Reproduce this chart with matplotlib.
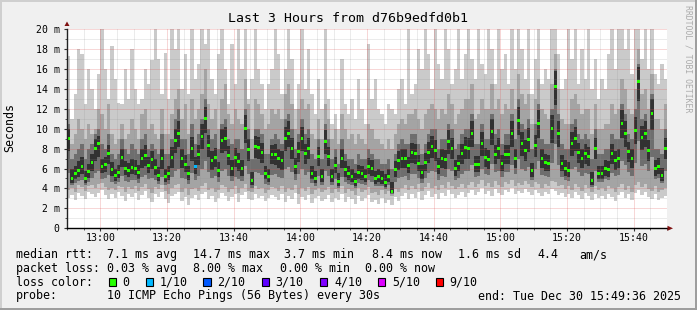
import numpy as np
import matplotlib
matplotlib.use('Agg')
import matplotlib.pyplot as plt
from matplotlib.patches import Rectangle, Polygon

# ======================= Daten (1 Wert pro Minute, 12:50 - 15:50, ms) =======================
median = [
    9.0, 5.0, 5.5, 5.8, 6.2, 5.0, 5.7, 6.6, 8.0, 8.5, 6.2, 6.4, 7.5, 5.9, 5.3, 5.6, 7.1, 6.0, 5.8, 6.1,
    6.0, 5.6, 7.0, 7.3, 6.3, 6.9, 6.1, 5.3, 7.0, 5.2, 5.5, 7.1, 8.8, 9.5, 7.0, 6.4, 5.5, 8.0, 6.2, 7.4,
    9.2, 11.0, 8.3, 6.8, 7.1, 5.8, 8.8, 9.0, 7.3, 6.0, 7.1, 6.7, 6.0, 10.0, 7.9, 4.8, 8.2, 8.1, 7.6, 5.5,
    5.2, 7.4, 7.4, 7.0, 6.8, 9.0, 9.5, 8.0, 6.2, 7.7, 9.0, 7.5, 8.0, 5.5, 5.0, 7.2, 5.2, 8.7, 7.2, 5.2,
    6.3, 4.7, 7.0, 5.9, 5.5, 5.2, 4.7, 5.6, 5.5, 5.2, 6.2, 6.0, 5.0, 5.2, 5.0, 4.6, 5.2, 3.7, 5.9, 6.8,
    7.0, 7.0, 6.3, 7.6, 7.5, 6.5, 5.6, 6.6, 7.6, 8.2, 7.8, 6.2, 7.0, 6.9, 8.7, 8.0, 6.0, 6.5, 7.5, 8.1,
    8.0, 9.5, 6.4, 6.4, 8.5, 7.1, 6.9, 9.7, 7.4, 8.0, 6.5, 7.4, 7.4, 9.5, 7.0, 10.8, 8.5, 7.8, 8.9, 5.8,
    8.3, 10.5, 7.0, 6.6, 6.5, 10.0, 14.2, 9.5, 6.5, 6.0, 5.8, 8.5, 9.0, 7.6, 7.0, 7.5, 7.2, 4.8, 8.0, 5.5,
    5.5, 6.0, 5.9, 7.5, 6.8, 7.0, 10.5, 9.5, 7.7, 7.0, 9.8, 14.7, 9.1, 9.5, 7.8, 11.5, 6.0, 6.2, 5.3, 8.0,
]
# smoke: min / max of all pings
smoke_lo = [
    3.0, 3.3, 2.8, 3.5, 3.2, 2.9, 3.6, 3.4, 3.1, 3.5, 3.8, 3.3, 2.9, 3.4, 3.0, 3.6, 3.2, 2.7, 3.4, 3.1,
    3.5, 2.8, 3.3, 3.7, 3.0, 2.6, 3.4, 3.1, 3.6, 2.9, 2.5, 3.2, 3.4, 3.6, 2.7, 3.1, 2.3, 3.0, 3.3, 2.8,
    3.4, 3.6, 2.9, 3.2, 2.6, 3.0, 3.5, 3.2, 2.7, 3.1, 3.4, 2.6, 3.3, 3.6, 2.9, 2.8, 3.4, 3.0, 3.2, 2.7,
    3.0, 3.3, 3.1, 2.8, 3.4, 2.6, 3.2, 2.9, 3.5, 2.4, 3.1, 2.8, 3.3, 2.5, 3.0, 3.2, 2.7, 2.9, 3.3, 2.6,
    3.0, 2.8, 3.4, 2.6, 3.1, 2.9, 2.4, 3.2, 2.7, 3.0, 3.3, 2.6, 2.8, 2.4, 3.0, 2.5, 2.8, 2.3, 3.1, 2.7,
    3.2, 3.5, 2.9, 3.4, 3.0, 3.6, 2.8, 3.3, 3.7, 3.1, 3.4, 2.9, 3.5, 3.2, 3.8, 3.4, 3.0, 3.3, 3.6, 3.1,
    3.5, 3.8, 3.3, 3.6, 4.0, 3.4, 3.7, 3.2, 3.9, 3.5, 3.3, 3.8, 3.6, 4.0, 3.4, 3.7, 3.5, 3.9, 3.6, 3.3,
    3.8, 3.5, 3.2, 3.6, 3.4, 3.9, 3.7, 3.3, 3.5, 3.1, 3.4, 3.0, 3.6, 3.3, 2.9, 3.5, 3.2, 2.8, 3.4, 3.0,
    3.2, 2.9, 3.4, 3.1, 2.7, 3.3, 3.6, 3.0, 3.4, 2.8, 3.5, 3.8, 3.3, 3.6, 3.1, 2.9, 3.4, 2.8, 3.0, 3.2,
]
smoke_hi = [
    17.3, 11.0, 13.5, 18.0, 17.5, 12.5, 16.0, 14.0, 12.0, 15.5, 20.0, 16.0, 13.0, 18.3, 15.0, 12.6, 12.5, 16.0, 13.0, 18.0,
    14.0, 12.5, 13.0, 16.0, 14.5, 16.9, 20.0, 17.0, 13.5, 17.6, 13.0, 20.0, 18.0, 20.0, 14.0, 17.5, 13.5, 20.0, 15.0, 16.5,
    20.0, 18.5, 20.0, 15.0, 13.5, 17.5, 20.0, 16.0, 12.5, 18.5, 14.5, 20.0, 16.0, 20.0, 13.0, 15.0, 20.0, 16.0, 14.5, 12.0,
    14.5, 16.0, 20.0, 17.5, 13.5, 16.0, 20.0, 17.0, 12.0, 14.5, 20.0, 14.0, 18.0, 13.5, 11.5, 15.0, 12.0, 20.0, 13.0, 10.5,
    11.5, 10.0, 17.0, 12.5, 11.5, 13.0, 11.0, 15.0, 12.0, 10.5, 18.5, 13.0, 15.0, 12.0, 11.5, 10.5, 12.5, 12.0, 11.5, 14.0,
    15.0, 12.5, 20.0, 13.5, 14.5, 18.0, 16.0, 20.0, 17.5, 14.0, 20.0, 16.5, 15.0, 20.0, 18.0, 14.5, 16.0, 20.0, 15.0, 17.5,
    20.0, 17.0, 15.0, 20.0, 16.5, 15.5, 20.0, 18.0, 14.5, 20.0, 16.0, 17.5, 14.5, 20.0, 16.0, 20.0, 18.0, 15.0, 20.0, 13.5,
    17.0, 20.0, 14.5, 16.0, 15.0, 20.0, 20.0, 17.5, 14.0, 15.0, 20.0, 17.0, 20.0, 14.5, 18.0, 15.0, 20.0, 14.0, 17.0, 13.0,
    15.0, 14.0, 17.5, 20.0, 16.0, 20.0, 20.0, 18.0, 20.0, 15.5, 20.0, 20.0, 17.0, 20.0, 16.0, 20.0, 15.5, 14.5, 16.5, 15.0,
]
# 2. Schicht (2. bis 9. Ping)
band2_lo = [
    3.8, 4.0, 3.6, 4.3, 4.1, 3.7, 4.2, 4.3, 4.0, 4.4, 4.5, 4.1, 3.8, 4.0, 3.8, 4.2, 4.1, 3.6, 4.1, 3.9,
    4.2, 3.7, 4.1, 4.4, 3.9, 3.5, 4.1, 3.9, 4.3, 3.7, 3.4, 4.0, 4.3, 4.4, 3.6, 4.0, 3.3, 3.9, 4.0, 3.7,
    4.2, 4.5, 3.8, 4.0, 3.6, 3.8, 4.3, 4.1, 3.6, 3.9, 4.2, 3.5, 4.0, 4.4, 3.7, 3.6, 4.2, 3.9, 4.0, 3.5,
    3.8, 4.1, 4.0, 3.7, 4.2, 3.6, 4.0, 3.8, 4.3, 3.4, 4.0, 3.7, 4.1, 3.4, 3.8, 4.0, 3.6, 3.8, 4.1, 3.5,
    3.9, 3.6, 4.2, 3.5, 3.9, 3.7, 3.3, 4.0, 3.6, 3.8, 4.1, 3.5, 3.6, 3.3, 3.8, 3.4, 3.7, 3.2, 3.9, 3.6,
    4.0, 4.3, 3.8, 4.2, 3.9, 4.4, 3.7, 4.1, 4.5, 4.0, 4.2, 3.8, 4.3, 4.0, 4.6, 4.2, 3.9, 4.1, 4.4, 4.0,
    4.3, 4.6, 4.1, 4.4, 4.8, 4.2, 4.5, 4.1, 4.7, 4.3, 4.1, 4.6, 4.4, 4.8, 4.2, 4.5, 4.3, 4.7, 4.4, 4.1,
    4.6, 4.4, 4.0, 4.4, 4.2, 4.7, 4.6, 4.2, 4.3, 3.9, 4.2, 3.8, 4.4, 4.1, 3.7, 4.3, 4.0, 3.6, 4.2, 3.8,
    4.0, 3.7, 4.2, 4.0, 3.6, 4.1, 4.4, 3.8, 4.2, 3.6, 4.3, 4.6, 4.1, 4.4, 3.9, 3.7, 4.2, 3.6, 3.8, 4.0,
]
band2_hi = [
    12.0, 8.5, 9.5, 11.0, 10.0, 9.0, 10.5, 9.5, 10.0, 12.0, 11.5, 10.0, 12.5, 9.5, 8.5, 9.0, 10.5, 9.0, 9.5, 11.0,
    10.0, 9.0, 11.5, 12.0, 10.0, 10.5, 9.5, 9.0, 12.0, 9.5, 9.5, 11.5, 13.0, 14.0, 11.0, 12.5, 9.5, 13.0, 11.0, 12.0,
    13.5, 16.0, 12.5, 11.0, 12.0, 10.0, 13.0, 14.5, 11.5, 10.5, 12.0, 11.0, 10.5, 15.0, 12.5, 9.0, 13.0, 12.5, 11.5, 10.0,
    10.5, 12.0, 11.5, 12.0, 11.0, 13.5, 14.5, 12.5, 10.0, 12.0, 13.0, 12.0, 12.5, 9.5, 9.0, 11.0, 9.0, 12.5, 11.0, 9.0,
    10.0, 8.5, 11.5, 10.0, 9.0, 9.5, 8.5, 9.5, 9.0, 8.5, 10.5, 10.0, 9.0, 9.0, 8.5, 8.0, 9.0, 8.0, 9.5, 10.5,
    11.0, 10.5, 11.5, 11.5, 12.0, 11.0, 10.0, 11.5, 12.0, 12.5, 12.0, 11.0, 12.0, 11.5, 13.5, 12.5, 10.5, 11.5, 12.0, 13.0,
    13.0, 14.5, 11.0, 11.5, 13.0, 12.0, 12.0, 14.5, 12.0, 13.0, 11.5, 12.5, 12.0, 14.0, 12.0, 15.5, 13.5, 12.5, 13.5, 10.5,
    13.0, 15.0, 12.0, 11.5, 11.0, 14.5, 17.5, 14.0, 11.0, 10.5, 10.5, 13.0, 13.5, 12.5, 11.5, 12.0, 12.0, 9.5, 12.5, 10.0,
    10.0, 10.5, 10.5, 12.5, 11.5, 12.0, 15.0, 14.0, 12.0, 11.5, 14.0, 18.0, 13.5, 14.0, 12.0, 15.5, 11.0, 11.0, 10.0, 12.5,
]
# 3. Schicht
band3_lo = [
    5.5, 4.3, 4.5, 4.7, 4.8, 4.3, 4.6, 5.0, 5.5, 5.7, 4.9, 5.0, 5.3, 4.6, 4.4, 4.6, 5.2, 4.7, 4.6, 4.8,
    4.8, 4.5, 5.1, 5.3, 4.9, 5.0, 4.8, 4.4, 5.1, 4.3, 4.4, 5.1, 5.8, 6.0, 5.0, 4.9, 4.4, 5.5, 4.8, 5.2,
    6.0, 6.8, 5.6, 5.0, 5.2, 4.6, 5.8, 6.0, 5.2, 4.7, 5.1, 4.9, 4.7, 6.3, 5.4, 4.0, 5.6, 5.5, 5.3, 4.4,
    4.3, 5.3, 5.4, 5.1, 5.0, 6.0, 6.2, 5.6, 4.8, 5.4, 6.0, 5.3, 5.6, 4.5, 4.2, 5.2, 4.3, 5.8, 5.2, 4.3,
    4.9, 4.0, 5.1, 4.6, 4.4, 4.3, 4.0, 4.5, 4.4, 4.3, 4.8, 4.6, 4.2, 4.2, 4.2, 3.9, 4.3, 3.4, 4.6, 5.0,
    5.1, 5.2, 4.8, 5.4, 5.4, 5.0, 4.5, 5.0, 5.5, 5.8, 5.6, 4.8, 5.2, 5.1, 6.0, 5.7, 4.8, 5.0, 5.4, 5.7,
    5.8, 6.4, 5.1, 5.2, 6.0, 5.4, 5.3, 6.5, 5.6, 5.8, 5.1, 5.6, 5.6, 6.4, 5.4, 7.0, 6.0, 5.8, 6.2, 4.8,
    6.0, 6.8, 5.3, 5.2, 5.1, 6.6, 8.5, 6.4, 5.1, 4.8, 4.7, 6.0, 6.2, 5.6, 5.2, 5.5, 5.4, 4.1, 5.8, 4.6,
    4.6, 4.9, 4.8, 5.5, 5.2, 5.3, 6.8, 6.4, 5.6, 5.2, 6.6, 8.8, 6.3, 6.5, 5.7, 7.2, 4.9, 5.0, 4.5, 5.8,
]
band3_hi = [
    10.5, 7.0, 7.5, 8.0, 8.5, 7.0, 8.0, 8.5, 9.5, 10.0, 8.5, 8.0, 9.5, 7.5, 7.0, 7.5, 9.0, 8.0, 7.5, 8.5,
    8.0, 7.5, 9.0, 9.5, 8.0, 8.5, 8.0, 7.5, 9.5, 7.5, 7.5, 9.0, 11.0, 12.0, 9.0, 9.0, 7.5, 10.5, 8.5, 9.5,
    11.0, 13.0, 10.0, 9.0, 9.5, 8.0, 10.5, 11.0, 9.0, 8.5, 9.0, 9.0, 8.0, 12.0, 10.0, 7.0, 10.0, 10.0, 9.5, 7.5,
    7.5, 9.0, 9.5, 9.0, 8.5, 11.0, 11.5, 10.0, 8.0, 9.5, 11.0, 9.5, 10.0, 7.5, 7.0, 9.0, 7.0, 10.5, 9.0, 7.0,
    8.0, 6.5, 9.0, 7.5, 7.0, 7.0, 6.5, 7.5, 7.0, 7.0, 8.0, 7.5, 7.0, 7.0, 6.5, 6.5, 7.0, 6.0, 7.5, 8.5,
    9.0, 8.5, 8.5, 9.5, 9.5, 8.5, 7.5, 8.5, 9.5, 10.0, 10.0, 8.0, 9.0, 9.0, 10.5, 10.0, 8.0, 8.5, 9.5, 10.0,
    10.0, 11.5, 8.5, 8.5, 10.5, 9.0, 9.0, 11.5, 9.5, 10.0, 8.5, 9.5, 9.5, 11.5, 9.0, 13.0, 10.5, 10.0, 11.0, 8.0,
    10.5, 12.5, 9.0, 8.5, 8.5, 12.0, 16.0, 11.5, 8.5, 8.0, 8.0, 10.5, 11.0, 9.5, 9.0, 9.5, 9.0, 7.0, 10.0, 7.5,
    7.5, 8.0, 8.0, 9.5, 9.0, 9.0, 12.5, 11.5, 9.5, 9.0, 12.0, 16.5, 11.0, 11.5, 10.0, 13.5, 8.0, 8.0, 7.5, 10.0,
]
# innerste Schicht (um den Median)
core_lo = [
    7.8, 4.5, 4.9, 5.1, 5.4, 4.5, 5.0, 5.8, 6.8, 7.2, 5.5, 5.6, 6.5, 5.2, 4.7, 5.0, 6.2, 5.3, 5.1, 5.4,
    5.3, 4.9, 6.1, 6.3, 5.5, 6.0, 5.3, 4.7, 6.0, 4.6, 4.8, 6.1, 7.6, 8.2, 6.1, 5.6, 4.8, 6.8, 5.4, 6.4,
    8.0, 9.6, 7.2, 5.9, 6.2, 5.1, 7.6, 7.8, 6.4, 5.2, 6.2, 5.8, 5.2, 8.6, 6.8, 4.3, 7.1, 7.0, 6.6, 4.9,
    4.6, 6.5, 6.4, 6.1, 5.9, 7.8, 8.2, 7.0, 5.4, 6.7, 7.8, 6.5, 7.0, 4.9, 4.5, 6.3, 4.6, 7.5, 6.3, 4.6,
    5.5, 4.2, 6.1, 5.1, 4.8, 4.6, 4.2, 4.9, 4.8, 4.6, 5.4, 5.2, 4.4, 4.6, 4.4, 4.1, 4.6, 3.5, 5.1, 5.9,
    6.1, 6.1, 5.5, 6.6, 6.5, 5.7, 4.9, 5.8, 6.6, 7.1, 6.8, 5.4, 6.1, 6.0, 7.5, 7.0, 5.2, 5.7, 6.5, 7.0,
    7.0, 8.2, 5.6, 5.6, 7.3, 6.2, 6.0, 8.4, 6.5, 7.0, 5.7, 6.5, 6.5, 8.2, 6.1, 9.4, 7.3, 6.8, 7.7, 5.1,
    7.2, 9.1, 6.1, 5.8, 5.7, 8.6, 12.4, 8.2, 5.7, 5.2, 5.1, 7.3, 7.8, 6.6, 6.1, 6.5, 6.3, 4.3, 7.0, 4.9,
    4.9, 5.2, 5.1, 6.5, 5.9, 6.1, 9.1, 8.2, 6.7, 6.1, 8.5, 12.8, 7.9, 8.2, 6.8, 9.9, 5.2, 5.4, 4.7, 7.0,
]
core_hi = [
    10.0, 6.0, 6.3, 6.8, 7.2, 5.8, 6.5, 7.5, 9.0, 9.3, 7.0, 7.2, 8.4, 6.7, 6.0, 6.4, 8.0, 6.8, 6.6, 7.0,
    6.9, 6.4, 8.0, 8.4, 7.2, 7.8, 7.0, 6.2, 8.0, 6.0, 6.3, 8.2, 10.0, 10.8, 8.0, 7.4, 6.3, 9.2, 7.2, 8.4,
    10.5, 12.2, 9.4, 7.8, 8.1, 6.7, 10.0, 10.2, 8.3, 6.9, 8.1, 7.6, 6.9, 11.4, 9.0, 5.6, 9.3, 9.2, 8.6, 6.3,
    6.0, 8.4, 8.5, 8.0, 7.8, 10.2, 10.8, 9.1, 7.1, 8.7, 10.2, 8.5, 9.1, 6.3, 5.8, 8.2, 6.0, 9.9, 8.2, 6.0,
    7.2, 5.5, 8.0, 6.8, 6.3, 6.0, 5.5, 6.4, 6.3, 6.0, 7.1, 6.9, 5.8, 6.0, 5.8, 5.4, 6.0, 4.6, 6.8, 7.8,
    8.0, 8.0, 7.2, 8.6, 8.5, 7.4, 6.4, 7.6, 8.7, 9.3, 8.9, 7.1, 8.0, 7.9, 9.9, 9.1, 6.9, 7.4, 8.5, 9.2,
    9.1, 10.8, 7.3, 7.3, 9.7, 8.1, 7.9, 11.0, 8.4, 9.1, 7.4, 8.4, 8.4, 10.8, 8.0, 12.2, 9.7, 8.9, 10.1, 6.6,
    9.4, 11.9, 8.0, 7.5, 7.4, 11.4, 15.8, 10.8, 7.4, 6.9, 6.7, 9.7, 10.2, 8.6, 8.0, 8.5, 8.2, 5.6, 9.1, 6.3,
    6.3, 6.9, 6.8, 8.5, 7.8, 8.0, 11.9, 10.8, 8.7, 8.0, 11.2, 16.2, 10.3, 10.8, 8.9, 13.0, 6.9, 7.1, 6.1, 9.1,
]
# (Minute, verlorene Pings von 10)
loss_points = [(38, 1)]

loss_labels = ['0', '1/10', '2/10', '3/10', '4/10', '5/10', '9/10']
loss_values = [0, 1, 2, 3, 4, 5, 9]
loss_colors = ['#26ff00', '#00b8ff', '#0059ff', '#5e00ff', '#7e00ff', '#dd00ff', '#ff0000']

xtick_pos = [10, 30, 50, 70, 90, 110, 130, 150, 170]
xtick_labels = ['13:00', '13:20', '13:40', '14:00', '14:20', '14:40', '15:00', '15:20', '15:40']
ytick_pos = [0, 2, 4, 6, 8, 10, 12, 14, 16, 18, 20]
ytick_labels = ['0', '2 m', '4 m', '6 m', '8 m', '10 m', '12 m', '14 m', '16 m', '18 m', '20 m']

title = 'Last 3 Hours from d76b9edfd0b1'
rtt_items = ['7.1 ms avg', '14.7 ms max', '3.7 ms min', '8.4 ms now', '1.6 ms sd', '4.4', 'am/s']
loss_items = ['0.03 % avg', '8.00 % max', '0.00 % min', '0.00 % now']
probe_text = '10 ICMP Echo Pings (56 Bytes) every 30s'
end_text = 'end: Tue Dec 30 15:49:36 2025'

# ======================= Darstellung =======================
plt.rcParams['font.family'] = 'DejaVu Sans Mono'
W, H = 697, 310


def fx(x):
    return x / W


def fy(y):
    return 1 - y / H


fig = plt.figure(figsize=(W / 100, H / 100), dpi=100, facecolor='#f0f0f0')

# Rahmen (rrdtool shade)
fig.patches.append(Rectangle((0, fy(2)), 1, 2 / H, transform=fig.transFigure, color='#cfcfcf', lw=0))
fig.patches.append(Rectangle((0, 0), 2 / W, 1, transform=fig.transFigure, color='#cfcfcf', lw=0))
fig.patches.append(Rectangle((0, 0), 1, 2 / H, transform=fig.transFigure, color='#9e9e9e', lw=0))
fig.patches.append(Rectangle((fx(695), 0), 2 / W, 1, transform=fig.transFigure, color='#9e9e9e', lw=0))

ax = fig.add_axes([fx(67), fy(228.3), 600 / W, 199.3 / H])
ax.set_facecolor('white')

t = np.arange(len(median))
med = np.array(median)
layers = [
    (smoke_lo, smoke_hi, '#cacaca'),
    (band2_lo, band2_hi, '#a4a4a4'),
    (band3_lo, band3_hi, '#6e6e6e'),
    (core_lo, core_hi, '#323232'),
]
for lo, hi, col in layers:
    lo = np.array(lo)
    hi = np.array(hi)
    ax.bar(t, hi - lo, bottom=lo, width=1.0, align='edge', color=col, linewidth=0, zorder=1)

# Gitter
for v in range(1, 21):
    if v % 2 == 0:
        ax.axhline(v, color='#de5050', alpha=0.45, lw=0.72, ls=(0, (1, 1)), zorder=3)
    else:
        ax.axhline(v, color='#8f8f8f', alpha=0.35, lw=0.72, ls=(0, (1, 1)), zorder=3)
for m in range(5, 180, 5):
    if (m - 10) % 20 == 0:
        ax.axvline(m, color='#de5050', alpha=0.45, lw=0.72, ls=(0, (1, 1)), zorder=3)
    else:
        ax.axvline(m, color='#8f8f8f', alpha=0.35, lw=0.72, ls=(0, (1, 1)), zorder=3)

# Median-Marker mit Verlustfarbe
mcol = [loss_colors[0]] * len(median)
for idx, lost in loss_points:
    mcol[idx] = loss_colors[loss_values.index(lost)]
ax.bar(t + 0.1, 0.28, bottom=med - 0.14, width=0.8, align='edge', color=mcol, linewidth=0, zorder=4)

ax.set_xlim(0, 180)
ax.set_ylim(0, 20)
ax.set_xticks(xtick_pos)
ax.set_xticklabels(xtick_labels)
ax.set_xticks(range(0, 181, 5), minor=True)
ax.set_yticks(ytick_pos)
ax.set_yticklabels(ytick_labels)
ax.set_yticks(range(0, 21), minor=True)
ax.tick_params(which='major', length=2.2, width=0.8, color='#333333', labelsize=7.1, pad=1.5)
ax.tick_params(which='minor', length=1.4, width=0.7, color='#555555')
ax.tick_params(axis='y', which='major', pad=3.2)
for s in ['top', 'right']:
    ax.spines[s].set_visible(False)
ax.spines['left'].set_color('#222222')
ax.spines['bottom'].set_color('black')
ax.spines['left'].set_linewidth(1.0)
ax.spines['bottom'].set_linewidth(1.0)
ax.spines['left'].set_zorder(5)
ax.spines['bottom'].set_zorder(5)

# Pfeile
fig.patches.append(Polygon([(fx(64.5), fy(26)), (fx(69.5), fy(26)), (fx(67), fy(21.5))],
                           closed=True, transform=fig.transFigure, color='#7f1010', lw=0))
fig.patches.append(Polygon([(fx(667.5), fy(225.8)), (fx(667.5), fy(230.8)), (fx(673), fy(228.3))],
                           closed=True, transform=fig.transFigure, color='#7f1010', lw=0))

# Texte
fig.text(0.5, fy(19), title, ha='center', va='center', fontsize=9.5)
fig.text(fx(10), fy(128), 'Seconds', rotation=90, ha='center', va='center', fontsize=8.35)
fig.text(fx(688), fy(58.5), 'RRDTOOL / TOBI OETIKER', rotation=270, ha='center', va='center',
         fontsize=5.85, color='#ababab')

fs = 8.35
y1, y2, y3, y4 = 254.5, 268.5, 282, 296
fig.text(fx(16), fy(y1), 'median rtt:', va='center', fontsize=fs)
for x, s in zip([107.3, 193.3, 284, 372, 458.3, 537.3, 579.3], rtt_items):
    fig.text(fx(x), fy(y1), s, va='center', fontsize=fs)

fig.text(fx(16), fy(y2), 'packet loss:', va='center', fontsize=fs)
for x, s in zip([107.3, 193.3, 279.5, 365], loss_items):
    fig.text(fx(x), fy(y2), s, va='center', fontsize=fs)

fig.text(fx(16), fy(y3), 'loss color:', va='center', fontsize=fs)
box_x = [108.7, 146, 203.3, 261.7, 320, 378, 435.7]
for bx, lab, col in zip(box_x, loss_labels, loss_colors):
    fig.patches.append(Rectangle((fx(bx), fy(285.7)), 7.3 / W, 8 / H, transform=fig.transFigure,
                                 facecolor=col, edgecolor='black', lw=0.8))
    fig.text(fx(bx + 14), fy(y3), lab, va='center', fontsize=fs)

fig.text(fx(16), fy(y4), 'probe:', va='center', fontsize=fs)
fig.text(fx(107.3), fy(y4), probe_text, va='center', fontsize=fs)
fig.text(fx(478.3), fy(y4), end_text, va='center', fontsize=fs)

fig.savefig('out.png', dpi=100, facecolor=fig.get_facecolor())
